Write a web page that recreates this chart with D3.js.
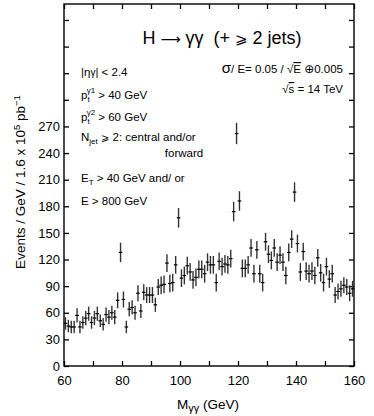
<!DOCTYPE html>
<html>
<head>
<meta charset="utf-8">
<script src="https://cdn.jsdelivr.net/npm/d3@7"></script>
<style>
  body { margin: 0; background: #fff; }
  svg text { font-family: "Liberation Sans", Arial, sans-serif; fill: #000; }
</style>
</head>
<body>
<div class="my-graph"></div>
<script>
// bin centres (GeV)
const mass = [
  60.5, 61.5, 62.5, 63.5, 64.5, 65.5, 66.5, 67.5, 68.5, 69.5,
  70.5, 71.5, 72.5, 73.5, 74.5, 75.5, 76.5, 77.5, 78.5, 79.5,
  80.5, 81.5, 82.5, 83.5, 84.5, 85.5, 86.5, 87.5, 88.5, 89.5,
  90.5, 91.5, 92.5, 93.5, 94.5, 95.5, 96.5, 97.5, 98.5, 99.5,
  100.5, 101.5, 102.5, 103.5, 104.5, 105.5, 106.5, 107.5, 108.5, 109.5,
  110.5, 111.5, 112.5, 113.5, 114.5, 115.5, 116.5, 117.5, 118.5, 119.5,
  120.5, 121.5, 122.5, 123.5, 124.5, 125.5, 126.5, 127.5, 128.5, 129.5,
  130.5, 131.5, 132.5, 133.5, 134.5, 135.5, 136.5, 137.5, 138.5, 139.5,
  140.5, 141.5, 142.5, 143.5, 144.5, 145.5, 146.5, 147.5, 148.5, 149.5,
  150.5, 151.5, 152.5, 153.5, 154.5, 155.5, 156.5, 157.5, 158.5, 159.5
]

const events = [
  48, 45, 44, 44, 57, 44, 49, 54, 59, 49,
  54, 59, 51, 47, 58, 55, 60, 55, 74, 128,
  75, 44, 64, 66, 60, 82, 62, 83, 80, 80,
  80, 69, 89, 91, 92, 116, 93, 94, 114, 167,
  99, 102, 113, 106, 97, 100, 109, 109, 104, 117,
  114, 114, 94, 118, 112, 115, 114, 121, 174, 262,
  186, 110, 110, 114, 133, 104, 131, 104, 94, 140,
  126, 119, 133, 117, 125, 117, 102, 128, 143, 196,
  138, 106, 129, 107, 104, 107, 102, 122, 105, 94,
  112, 98, 104, 80, 84, 87, 91, 89, 82, 87
]

const errors = [
  7, 7, 7, 7, 8, 7, 7, 8, 8, 7,
  8, 8, 7, 7, 8, 8, 8, 8, 9, 11,
  9, 7, 8, 8, 8, 9, 8, 9, 9, 9,
  9, 8, 9, 10, 10, 10, 10, 10, 10, 11,
  10, 10, 10, 10, 10, 10, 10, 10, 10, 10,
  10, 10, 10, 10, 10, 10, 10, 10, 11, 12,
  11, 10, 10, 10, 10, 10, 10, 10, 10, 10,
  10, 10, 10, 10, 10, 10, 10, 10, 10, 11,
  10, 10, 10, 10, 10, 10, 10, 10, 10, 10,
  10, 10, 10, 9, 9, 9, 9, 9, 9, 9
]

const xTicks = [60, 70, 80, 90, 100, 110, 120, 130, 140, 150, 160]
const xTickLabels = [60, 80, 100, 120, 140, 160]
const yTicks = [0, 30, 60, 90, 120, 150, 180, 210, 240, 270, 300, 330, 360, 390]
const yTickLabels = [0, 30, 60, 90, 120, 150, 180, 210, 240, 270]

const width = 374
const height = 416
const margin = { top: 4, right: 20, bottom: 50, left: 64 }

const x = d3.scaleLinear()
  .domain([60, 160])
  .range([margin.left, width - margin.right])

const y = d3.scaleLinear()
  .domain([0, 408])
  .range([height - margin.bottom, margin.top])

const svg = d3.select('.my-graph')
  .append('svg')
  .attr('width', width)
  .attr('height', height)

const tickLen = 5
const fmt = v => xTickLabels.includes(v) ? v : ''
const fmtY = v => yTickLabels.includes(v) ? v : ''

// bottom & top axes, ticks pointing inward
svg.append('g')
  .attr('transform', `translate(0, ${y(0)})`)
  .call(d3.axisBottom(x).tickValues(xTicks).tickSizeInner(-tickLen).tickSizeOuter(0).tickPadding(10).tickFormat(fmt))
svg.append('g')
  .attr('transform', `translate(0, ${margin.top})`)
  .call(d3.axisTop(x).tickValues(xTicks).tickSizeInner(-tickLen).tickSizeOuter(0).tickFormat(''))

// left & right axes
svg.append('g')
  .attr('transform', `translate(${margin.left}, 0)`)
  .call(d3.axisLeft(y).tickValues(yTicks).tickSizeInner(-tickLen).tickSizeOuter(0).tickPadding(4).tickFormat(fmtY))
svg.append('g')
  .attr('transform', `translate(${width - margin.right}, 0)`)
  .call(d3.axisRight(y).tickValues(yTicks).tickSizeInner(-tickLen).tickSizeOuter(0).tickFormat(''))

svg.selectAll('.domain').remove()
svg.selectAll('.tick line').attr('stroke', '#000').attr('stroke-width', 1.3)
svg.selectAll('.tick text')
  .style('font-family', '"Liberation Sans", Arial, sans-serif')
  .style('font-size', '13px')
  .attr('fill', '#000')

// frame
svg.append('rect')
  .attr('x', margin.left)
  .attr('y', margin.top)
  .attr('width', width - margin.left - margin.right)
  .attr('height', y(0) - margin.top)
  .attr('fill', 'none')
  .attr('stroke', '#000')
  .attr('stroke-width', 1.4)

// data points with error bars
const pts = svg.append('g')
  .selectAll('g')
  .data(d3.zip(mass, events, errors))
  .enter().append('g')

pts.append('line')
  .attr('x1', d => x(d[0])).attr('x2', d => x(d[0]))
  .attr('y1', d => y(d[1] - d[2])).attr('y2', d => y(d[1] + d[2]))
  .attr('stroke', '#333')
  .attr('stroke-width', 1.4)

pts.append('line')
  .attr('x1', d => x(d[0]) - 1.8).attr('x2', d => x(d[0]) + 1.8)
  .attr('y1', d => y(d[1])).attr('y2', d => y(d[1]))
  .attr('stroke', '#000')
  .attr('stroke-width', 1.2)

// axis titles
svg.append('text')
  .attr('transform', `translate(25, 182) rotate(-90)`)
  .attr('text-anchor', 'middle')
  .style('font-size', '13.5px')
  .html('Events / GeV / 1.6 x 10<tspan dy="-5" font-size="9.5px">5</tspan><tspan dy="5"> pb</tspan><tspan dy="-5" font-size="9.5px">−1</tspan>')

svg.append('text')
  .attr('x', 208).attr('y', 409)
  .attr('text-anchor', 'middle')
  .style('font-size', '13.5px')
  .html('M<tspan dy="3" font-size="11px">γγ</tspan><tspan dy="-3"> (GeV)</tspan>')

// title
svg.append('text')
  .attr('x', 222).attr('y', 44)
  .attr('text-anchor', 'middle')
  .style('font-size', '18px')
  .html('H <tspan font-family="DejaVu Sans" font-size="14px">⟶</tspan> γγ  (+ <tspan font-family="DejaVu Sans" font-size="15px">⩾</tspan> 2 jets)')
  .attr('xml:space', 'preserve')

// cuts
const cuts = svg.append('g').style('font-size', '11.5px')
cuts.append('text').attr('x', 81).attr('y', 76)
  .html('|η<tspan font-size="10px">γ</tspan>| &lt; 2.4')
cuts.append('text').attr('x', 81).attr('y', 99)
  .html('p<tspan dy="3" font-size="8px">t</tspan><tspan dy="-9" dx="-3" font-size="8px">γ1</tspan><tspan dy="6"> &gt; 40 GeV</tspan>')
cuts.append('text').attr('x', 81).attr('y', 121)
  .html('p<tspan dy="3" font-size="8px">t</tspan><tspan dy="-9" dx="-3" font-size="8px">γ2</tspan><tspan dy="6"> &gt; 60 GeV</tspan>')
cuts.append('text').attr('x', 81).attr('y', 141)
  .html('N<tspan dy="3" font-size="8px">jet</tspan><tspan dy="-3"> </tspan><tspan font-family="DejaVu Sans" font-size="10px">⩾</tspan> 2: central and/or')
cuts.append('text').attr('x', 184).attr('y', 157).attr('text-anchor', 'middle')
  .text('forward')
cuts.append('text').attr('x', 81).attr('y', 182)
  .html('E<tspan dy="3" font-size="8px">T</tspan><tspan dy="-3"> &gt; 40 GeV and/ or</tspan>')
cuts.append('text').attr('x', 81).attr('y', 205)
  .text('E > 800 GeV')

// resolution / energy
svg.append('text').attr('x', 343).attr('y', 73).attr('text-anchor', 'end')
  .style('font-size', '11.5px')
  .html('<tspan font-size="15px">σ</tspan>/ E= 0.05 / √<tspan style="text-decoration:overline">E</tspan> <tspan font-family="DejaVu Sans" font-size="12px">⊕</tspan>0.005')
svg.append('text').attr('x', 343).attr('y', 93).attr('text-anchor', 'end')
  .style('font-size', '11.5px')
  .html('√<tspan style="text-decoration:overline">s</tspan> = 14 TeV')
</script>
</body>
</html>
